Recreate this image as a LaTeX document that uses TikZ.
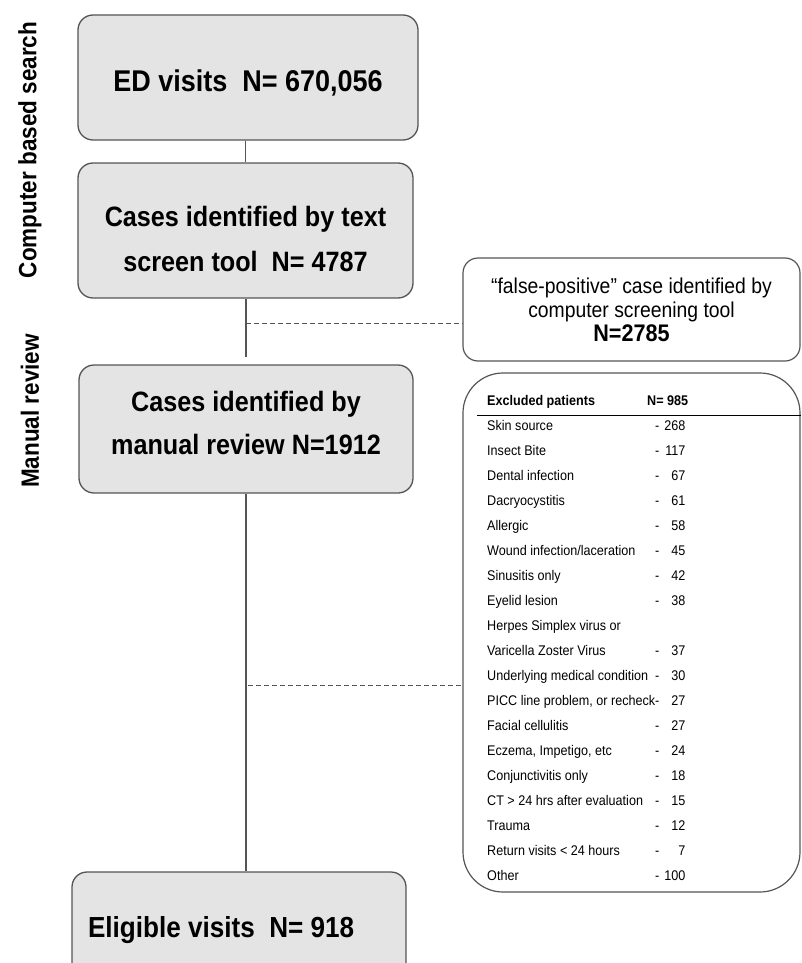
\documentclass[tikz,border=0pt]{standalone}
\usepackage{fontspec}
\setmainfont{Liberation Sans}[FakeStretch=0.9]

\definecolor{boxfill}{RGB}{228,228,228}
\definecolor{boxline}{RGB}{85,85,85}

\tikzset{%
        box/.style={
                draw=boxline,
                fill=boxfill,
                line width=1.3pt,
                rounded corners=15pt,
                align=center,
                inner sep=0pt
            },
        note/.style={
                draw=boxline,
                fill=white,
                line width=1.2pt,
                align=center,
                inner sep=0pt
            },
        link/.style={draw=boxline, line width=1.3pt},
        skip/.style={draw=boxline, line width=1pt, dash pattern=on 5pt off 3pt},
        side/.style={rotate=90, font=\bfseries\fontsize{25}{30}\selectfont},
        row/.style={anchor=base west, inner sep=0pt, font=\fontsize{14}{16}\selectfont}
    }

\newcommand{\exrow}[2]{\makebox[168pt][l]{#1}-\makebox[26pt][r]{#2}}

\begin{document}
\begin{tikzpicture}[x=1pt, y=-1pt]
    \useasboundingbox (0,0) rectangle (801,963);

    % stage labels:
        \node [side] (cs) at (30,150) {Computer based search};
        \node [side] (mr) at (30,411) {Manual review};

    % main flow:
        \node [box, minimum width=340pt, minimum height=125pt, font=\bfseries\fontsize{30}{45}\selectfont]
            (b1) at (248,77.5) {\rule{0pt}{33pt}ED visits\ \ N= 670,056};
        \node [box, minimum width=335pt, minimum height=135pt, font=\bfseries\fontsize{28}{45}\selectfont]
            (b2) at (245.5,230.5) {\rule{0pt}{38pt}Cases identified by text\\screen tool\ \ N= 4787};
        \node [box, minimum width=334pt, minimum height=128pt, font=\bfseries\fontsize{28}{43}\selectfont]
            (b3) at (246,429) {Cases identified by\\manual review N=1912\rule[-12pt]{0pt}{12pt}};
        \node [box, minimum width=334pt, minimum height=116pt, text width=302pt, inner xsep=16pt, align=flush left,
            font=\bfseries\fontsize{29}{35}\selectfont]
            (el) at (239,930) {Eligible visits\ \ N= 918};

        \draw [link] (b2.north |- b1.south) -- (b2.north);
        \draw [link, shorten >=7pt] (b3.north |- b2.south) -- (b3.north);
        \draw [link] (b3.south) -- (b3.south |- el.north);

    % exclusions:
        \node [note, rounded corners=15pt, minimum width=337pt, minimum height=103pt, font=\fontsize{21.5}{24}\selectfont]
            (fp) at (631.5,309.5) {``false-positive'' case identified by\\computer screening tool\\{\bfseries\fontsize{24}{24}\selectfont N=2785}};
        \node [note, rounded corners=40pt, minimum width=337pt, minimum height=519pt]
            (ex) at (631.5,632.5) {};

        \coordinate (d1) at (246,323);
        \coordinate (d2) at (248,685);
        \draw [skip] (d1) -- (d1 -| fp.west);
        \draw [skip] (d2) -- (d2 -| ex.west);

    % excluded patients table:
        \node [row] (hd) at (487,405) {\bfseries\makebox[160pt][l]{Excluded patients}N= 985};
        \coordinate (rl) at (477,415);
        \draw [line width=1pt] (rl) -- (rl -| ex.east);

        \node [row] (r1) at (487,430) {\exrow{Skin source}{268}};
        \node [row] (r2) at (487,455) {\exrow{Insect Bite}{117}};
        \node [row] (r3) at (487,480) {\exrow{Dental infection}{67}};
        \node [row] (r4) at (487,505) {\exrow{Dacryocystitis}{61}};
        \node [row] (r5) at (487,530) {\exrow{Allergic}{58}};
        \node [row] (r6) at (487,555) {\exrow{Wound infection/laceration}{45}};
        \node [row] (r7) at (487,580) {\exrow{Sinusitis only}{42}};
        \node [row] (r8) at (487,605) {\exrow{Eyelid lesion}{38}};
        \node [row] (r9) at (487,630) {Herpes Simplex virus or};
        \node [row] (r10) at (487,655) {\exrow{Varicella Zoster Virus}{37}};
        \node [row] (r11) at (487,680) {\exrow{Underlying medical condition}{30}};
        \node [row] (r12) at (487,705) {\exrow{PICC line problem, or recheck}{27}};
        \node [row] (r13) at (487,730) {\exrow{Facial cellulitis}{27}};
        \node [row] (r14) at (487,755) {\exrow{Eczema, Impetigo, etc}{24}};
        \node [row] (r15) at (487,780) {\exrow{Conjunctivitis only}{18}};
        \node [row] (r16) at (487,805) {\exrow{CT > 24 hrs after evaluation}{15}};
        \node [row] (r17) at (487,830) {\exrow{Trauma}{12}};
        \node [row] (r18) at (487,855) {\exrow{Return visits < 24 hours}{7}};
        \node [row] (r19) at (487,880) {\exrow{Other}{100}};
\end{tikzpicture}
\end{document}
